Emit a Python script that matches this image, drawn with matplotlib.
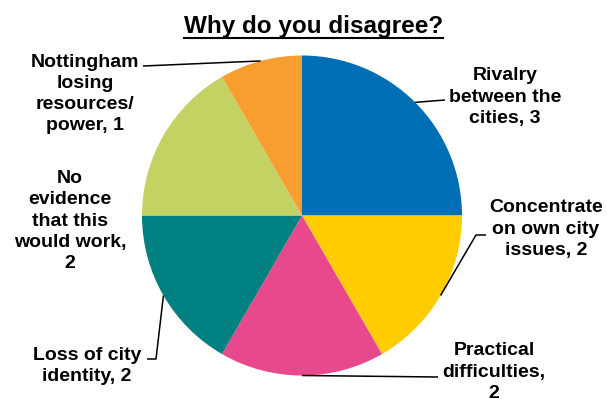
import numpy as np
import matplotlib.pyplot as plt

# Respuestas: "Why do you disagree?"
razones = ['Rivalry\nbetween the\ncities', 'Concentrate\non own city\nissues',
           'Practical\ndifficulties,\n', 'Loss of city\nidentity',
           'No\nevidence\nthat this\nwould work,\n', 'Nottingham\nlosing\nresources/\npower']
votos = [3, 2, 2, 2, 2, 1]
colores = ['#006EB4', '#FFCC00', '#E8488C', '#008080', '#C4D264', '#F89D2F']

# Posición de cada etiqueta (px) y codo de la línea guía
pos_etiqueta = [(505, 97), (546, 229), (494, 372), (87, 366), (70, 221), (85, 94)]
linea_guia = [
    [(445, 100)],
    [(476, 235), (486, 235)],
    [(438, 377)],
    [(156, 359), (147, 359)],
    None,
    [(143, 66)],
]

W, H = 607, 399
fig = plt.figure(figsize=(W / 100, H / 100), dpi=100)
ax = fig.add_axes([0, 0, 1, 1])

centro = (302, 215.5)
radio = 160
# con el eje y invertido, counterclock=True gira en sentido horario en pantalla
cunas, _ = ax.pie(votos, colors=colores, startangle=-90, counterclock=True,
                  center=centro, radius=radio, frame=True,
                  wedgeprops=dict(linewidth=0))
ax.set_xlim(0, W)
ax.set_ylim(H, 0)   # coordenadas en píxeles
ax.axis('off')

fuente = dict(family='Liberation Sans', weight='bold', size=14)

for cuna, txt, n, (tx, ty), guia in zip(cunas, razones, votos, pos_etiqueta, linea_guia):
    if txt.endswith('\n'):
        etiqueta = txt + str(n)
    else:
        etiqueta = f'{txt}, {n}'
    ax.text(tx, ty, etiqueta, ha='center', va='center', multialignment='center',
            linespacing=1.33, color='black', **fuente)
    if guia is not None:
        ang = np.deg2rad((cuna.theta1 + cuna.theta2) / 2)
        px = centro[0] + radio * np.cos(ang)
        py = centro[1] + radio * np.sin(ang)
        xs = [px] + [p[0] for p in guia]
        ys = [py] + [p[1] for p in guia]
        ax.plot(xs, ys, color='black', lw=1.1, solid_capstyle='butt')

# Título subrayado
titulo = ax.text(313.5, 33, 'Why do you disagree?', ha='center', va='baseline',
                 family='Liberation Sans', weight='bold', size=17.5)
fig.canvas.draw()
bb = titulo.get_window_extent().transformed(ax.transData.inverted())
ax.plot([bb.x0, bb.x1], [38, 38], color='black', lw=1.5)

plt.savefig('out.png', dpi=100)
